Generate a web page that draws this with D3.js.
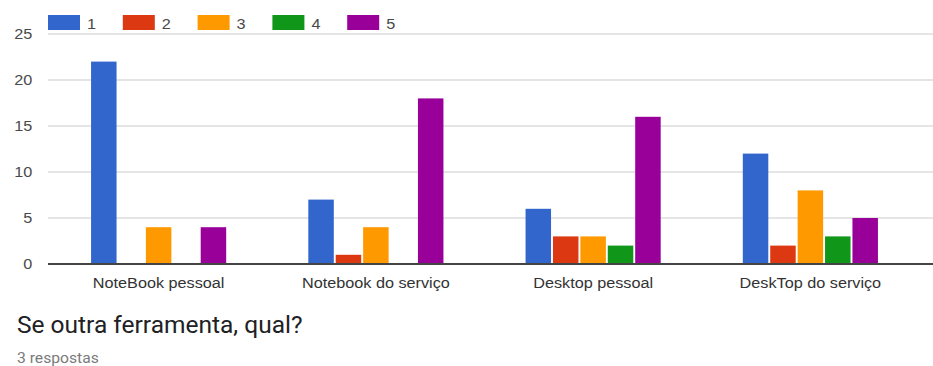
<!DOCTYPE html>
<html>
<head>
<meta charset="utf-8">
<script src="https://cdn.jsdelivr.net/npm/d3@7"></script>
<style>
  html, body { margin: 0; padding: 0; background: #fff; }
  svg { display: block; }
</style>
</head>
<body>
<svg id="chart" width="933" height="366"></svg>
<script>
// Devices used, counted per rating (1–5)
const categories = ["NoteBook pessoal", "Notebook do serviço", "Desktop pessoal", "DeskTop do serviço"];
const seriesNames = ["1", "2", "3", "4", "5"];
const series1 = [22, 7, 6, 12];
const series2 = [0, 1, 3, 2];
const series3 = [4, 4, 3, 8];
const series4 = [0, 0, 2, 3];
const series5 = [4, 18, 16, 5];
const yTicks = [0, 5, 10, 15, 20, 25];
const colors = ["#3366cc", "#dc3912", "#ff9900", "#109618", "#990099"];

const seriesValues = [series1, series2, series3, series4, series5];
const rows = categories.map((c, i) => ({
  category: c,
  values: seriesNames.map((s, j) => ({ key: s, value: seriesValues[j][i] }))
}));

const svg = d3.select("#chart");
const font = "'Liberation Sans', Arial, sans-serif";
const stretch = 1.12; // wide lettering of the chart labels

const plot = { left: 48, right: 933, top: 34, bottom: 264 };

const y = d3.scaleLinear().domain([0, 25]).range([plot.bottom, plot.top]);
const x0 = d3.scaleBand().domain(categories).range([50, 919]).paddingInner(0.378).paddingOuter(0.189);
const x1 = d3.scaleBand().domain(seriesNames).range([0, x0.bandwidth()]).paddingInner(0.07).paddingOuter(0);

// Gridlines
svg.append("g")
  .selectAll("line")
  .data(yTicks.filter(d => d > 0))
  .join("line")
  .attr("x1", plot.left).attr("x2", plot.right)
  .attr("y1", d => y(d)).attr("y2", d => y(d))
  .attr("stroke", "#dcdcdc").attr("stroke-width", 1.5);

// Y axis labels
const yAxis = svg.append("g")
  .attr("transform", `translate(${plot.left},0)`)
  .call(d3.axisLeft(y).tickValues(yTicks).tickSize(0).tickPadding(14));
yAxis.select(".domain").remove();
yAxis.selectAll("text")
  .attr("font-family", font).attr("font-size", 14.5).attr("fill", "#4a4a4a")
  .attr("transform", `scale(${stretch},1)`);

// Bars
const groups = svg.append("g")
  .selectAll("g")
  .data(rows)
  .join("g")
  .attr("transform", d => `translate(${x0(d.category)},0)`);

groups.selectAll("rect")
  .data(d => d.values.filter(v => v.value > 0))
  .join("rect")
  .attr("x", d => x1(d.key))
  .attr("width", x1.bandwidth())
  .attr("y", d => y(d.value))
  .attr("height", d => y(0) - y(d.value))
  .attr("fill", (d) => colors[seriesNames.indexOf(d.key)]);

// Baseline
svg.append("line")
  .attr("x1", plot.left).attr("x2", plot.right)
  .attr("y1", y(0)).attr("y2", y(0))
  .attr("stroke", "#444").attr("stroke-width", 2);

// X axis labels
const xAxis = svg.append("g")
  .attr("transform", `translate(0,${plot.bottom})`)
  .call(d3.axisBottom(x0).tickSize(0).tickPadding(14));
xAxis.select(".domain").remove();
xAxis.selectAll("text")
  .attr("font-family", font).attr("font-size", 14.5).attr("fill", "#333")
  .attr("transform", `scale(${stretch},1)`);

// Legend
const legend = svg.append("g")
  .selectAll("g")
  .data(seriesNames)
  .join("g")
  .attr("transform", (d, i) => `translate(${48 + i * 74.8},15)`);
legend.append("rect")
  .attr("width", 32).attr("height", 15)
  .attr("fill", (d, i) => colors[i]);
legend.append("text")
  .attr("x", 39 / stretch).attr("y", 14)
  .attr("transform", `scale(${stretch},1)`)
  .attr("font-family", font).attr("font-size", 14.5).attr("fill", "#4a4a4a")
  .text(d => d);

// Question title and response count
svg.append("text")
  .attr("x", 17).attr("y", 333)
  .attr("font-family", "Roboto, sans-serif").attr("font-size", 24.5).attr("fill", "#202124")
  .text("Se outra ferramenta, qual?");
svg.append("text")
  .attr("x", 17 / stretch).attr("y", 363)
  .attr("transform", `scale(${stretch},1)`)
  .attr("font-family", "Roboto, sans-serif").attr("font-size", 14).attr("fill", "#7a7a7a")
  .text("3 respostas");
</script>
</body>
</html>
